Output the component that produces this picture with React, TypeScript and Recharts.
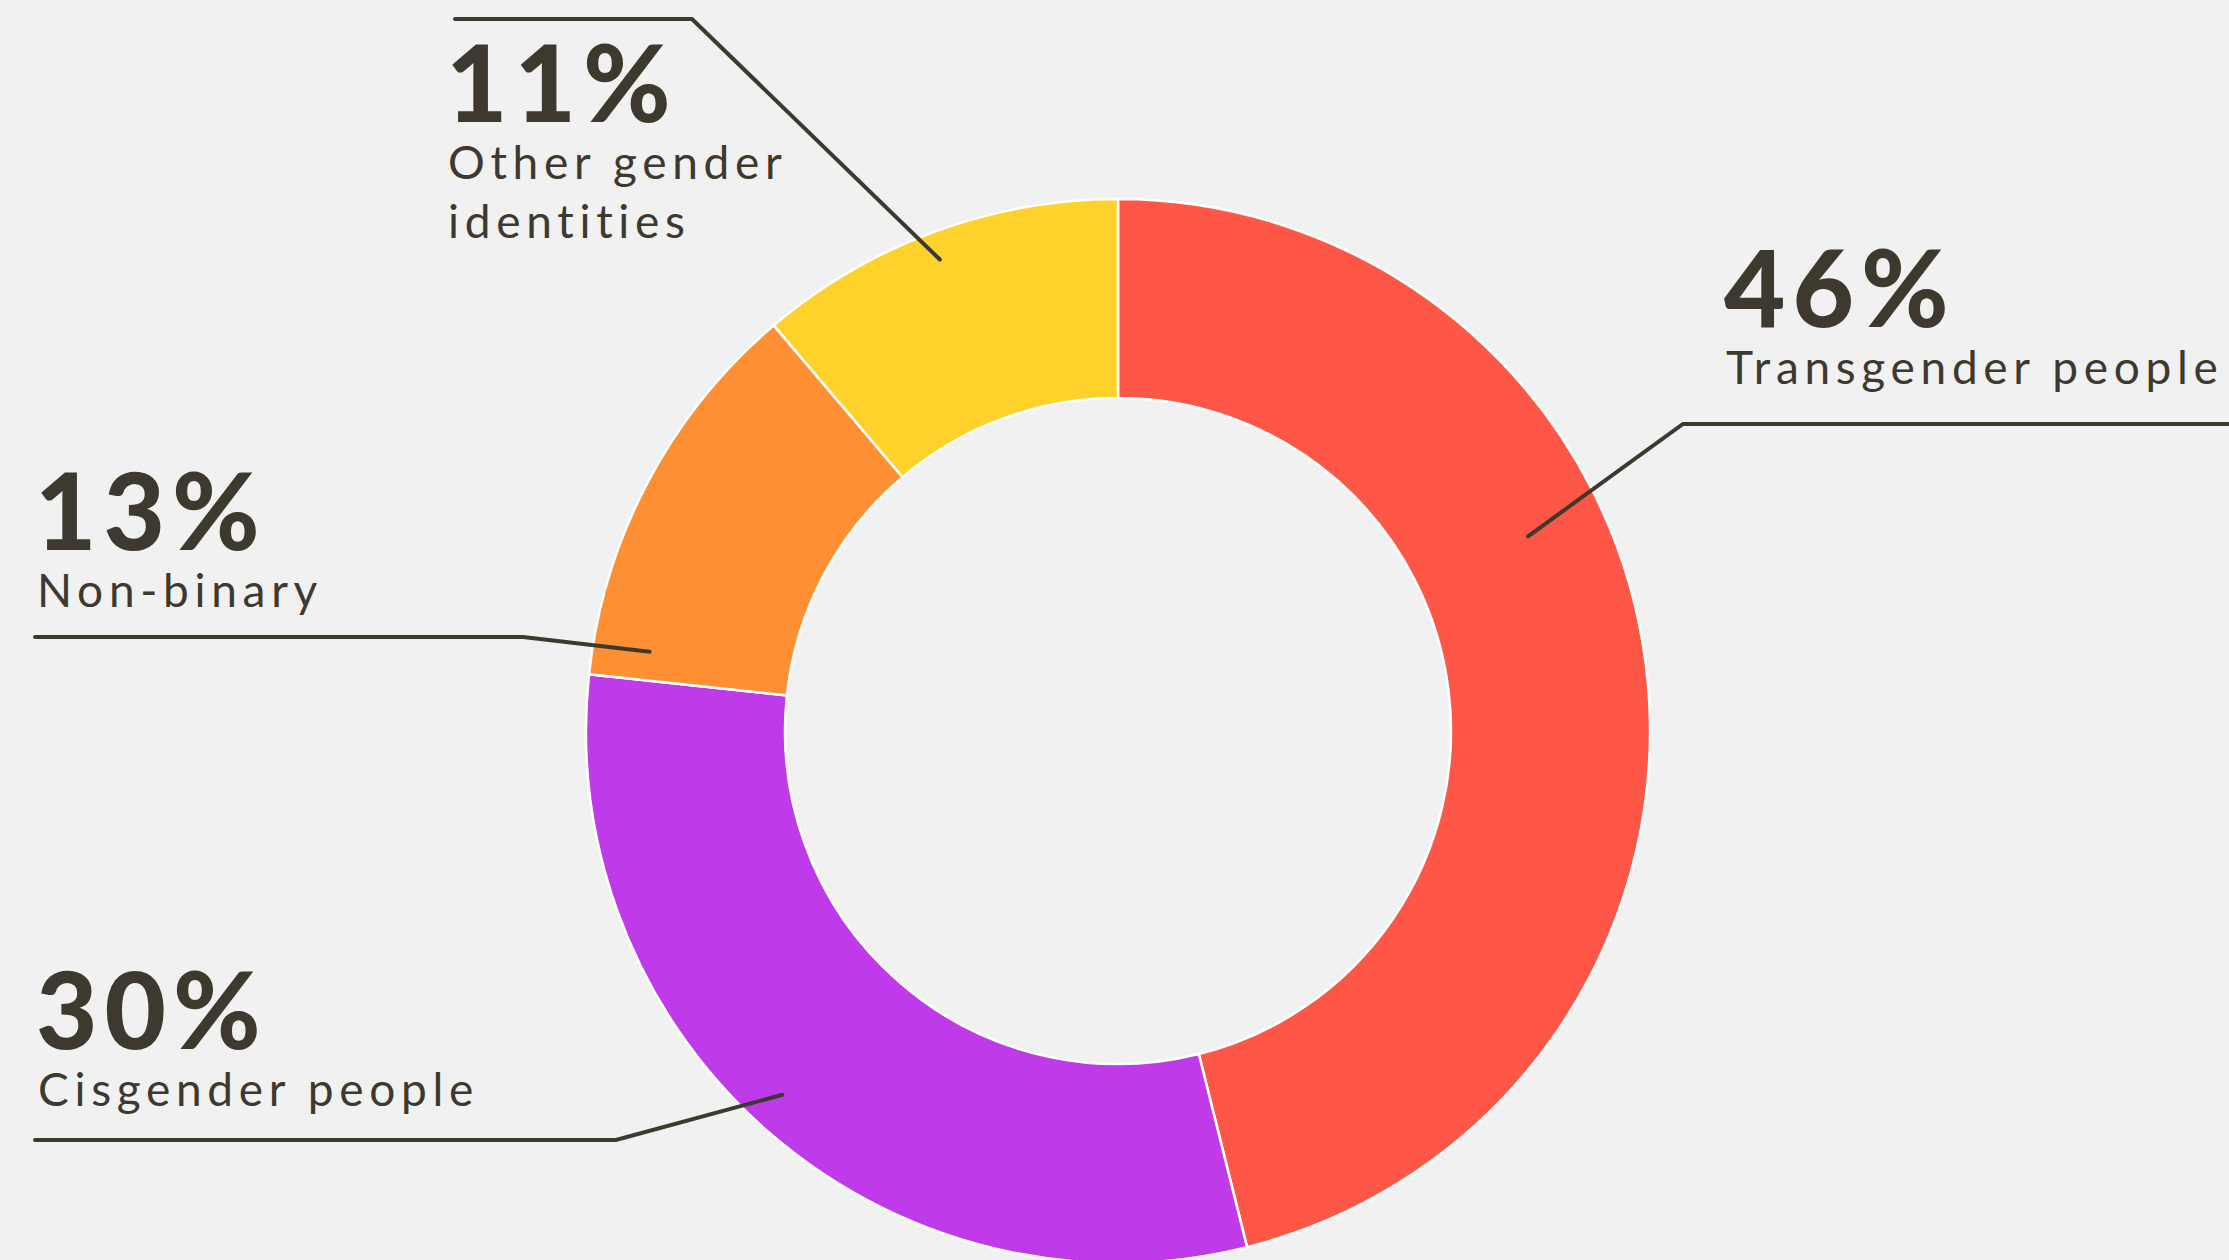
import React from "react";
import { PieChart, Pie, Cell } from "recharts";

// ---- data ----
const categories = ["Transgender people", "Cisgender people", "Non-binary", "Other gender identities"];
const shares = [46.1, 30.6, 12.1, 11.2];
const percentLabels = ["46%", "30%", "13%", "11%"];
const labelLines = [["Transgender people"], ["Cisgender people"], ["Non-binary"], ["Other gender", "identities"]];

// ---- styles / layout ----
const COLORS = ["#FF5747", "#BF3BE9", "#FF8F33", "#FFD22B"];
const INK = "#3D392F";
const BG = "#F1F1F1";
const FONT = "Lato, 'Open Sans', sans-serif";

// per-label layout: anchor (polar, relative to pie centre), elbow, end, text position
const layout = [
  { angle: 25.4, r: 454, elbow: [1683, 424], end: [2229, 424], tx: 1724, ty: 327 },
  { angle: 227.3, r: 495, elbow: [616, 1140], end: [35, 1140], tx: 36, ty: 1049 },
  { angle: 170.4, r: 475, elbow: [523, 637], end: [35, 637], tx: 35, ty: 550 },
  { angle: 110.7, r: 504, elbow: [692, 19], end: [455, 19], tx: 446, ty: 122 },
];

const data = categories.map((name, i) => ({ name, value: shares[i] }));

const RAD = Math.PI / 180;

const renderLabel = (props: any) => {
  const { cx, cy, index } = props;
  const L = layout[index];
  const ax = cx + L.r * Math.cos(L.angle * RAD);
  const ay = cy - L.r * Math.sin(L.angle * RAD);
  const pts = `${ax},${ay} ${L.elbow[0]},${L.elbow[1]} ${L.end[0]},${L.end[1]}`;
  return (
    <g key={`lbl-${index}`}>
      <polyline points={pts} fill="none" stroke={INK} strokeWidth={4} strokeLinecap="round" strokeLinejoin="miter" />
      <text x={L.tx} y={L.ty} fill={INK} fontFamily={FONT} fontWeight={900} fontSize={106} letterSpacing={7}>
        {percentLabels[index]}
      </text>
      {labelLines[index].map((ln, j) => (
        <text key={j} x={L.tx + 2} y={L.ty + 57 + j * 59} fill={INK} fontFamily={FONT} fontWeight={400} fontSize={46} letterSpacing={5.7}>
          {ln}
        </text>
      ))}
    </g>
  );
};

export default function App() {
  return (
    <div style={{ position: "fixed", left: 0, top: 0, width: 2229, height: 1260, background: BG, overflow: "hidden" }}>
      <PieChart width={2229} height={1260} margin={{ top: 0, right: 0, bottom: 0, left: 0 }}>
        <Pie
          data={data}
          dataKey="value"
          nameKey="name"
          cx={1118}
          cy={731}
          innerRadius={333}
          outerRadius={532}
          startAngle={90}
          endAngle={-270}
          stroke="#FFFFFF"
          strokeWidth={2.5}
          isAnimationActive={false}
          label={renderLabel}
          labelLine={false}
        >
          {data.map((d, i) => (
            <Cell key={d.name} fill={COLORS[i]} />
          ))}
        </Pie>
      </PieChart>
    </div>
  );
}
